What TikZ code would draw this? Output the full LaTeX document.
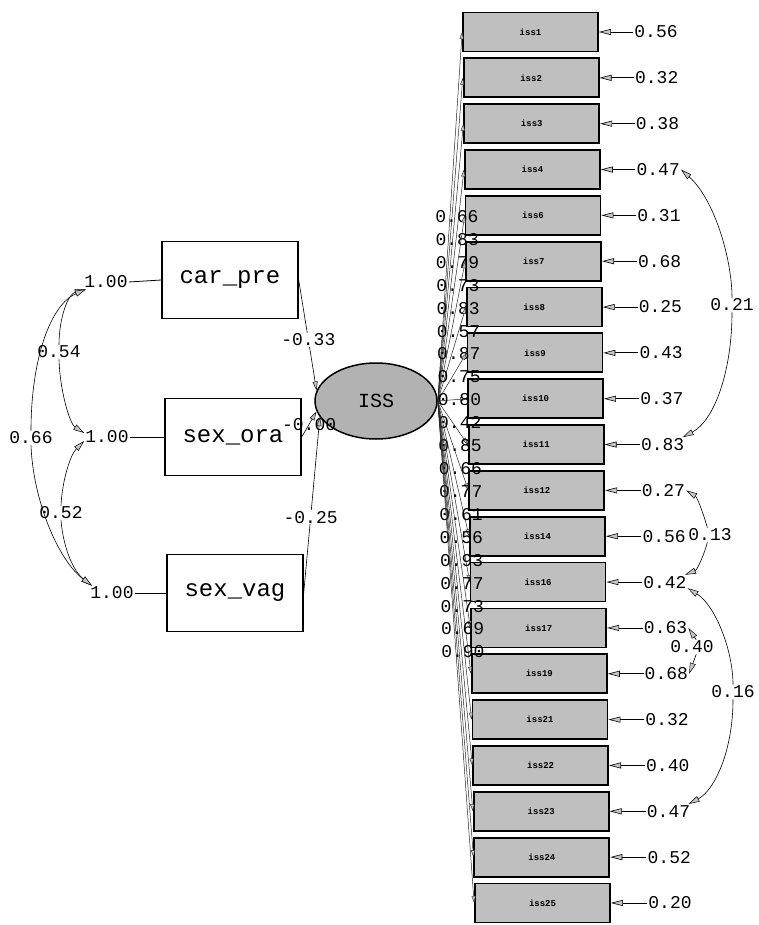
\documentclass[tikz,border=0pt]{standalone}
\usepackage{fontspec}
\newfontfamily\monof{Liberation Mono}
\usetikzlibrary{arrows.meta,shapes.geometric}
\begin{document}
\begin{tikzpicture}[x=1pt,y=-1pt,
  itembox/.style={draw=black,line width=1.8pt,fill=gray!50,minimum width=135pt,minimum height=39pt,inner sep=0pt,font=\monof\bfseries\fontsize{9}{9}\selectfont},
  xbox/.style={draw=black,line width=1.4pt,fill=white,minimum width=136pt,minimum height=77pt,inner sep=0pt,font=\monof\fontsize{24}{24}\selectfont},
  lab/.style={inner sep=1pt,font=\monof\fontsize{18}{18}\selectfont},
  wlab/.style={lab,fill=white},
  errarrow/.style={line width=0.8pt,-{Triangle[length=12pt,width=6pt,fill=gray!45,line width=0.6pt]}},
  load/.style={line width=0.5pt,draw=black!85,-{Triangle[length=7pt,width=4pt,fill=gray!45,line width=0.4pt]}},
  reg/.style={line width=0.6pt,-{Triangle[length=9pt,width=5pt,fill=gray!45,line width=0.5pt]}},
  cov/.style={line width=0.6pt,-{Triangle[length=11pt,width=6pt,fill=gray!45,line width=0.5pt]}},
  plain/.style={line width=0.8pt}
]
\useasboundingbox (0,0) rectangle (759,925);

% item boxes and error variances
\foreach \nm/\er [count=\k from 0] in {
 iss1/0.56, iss2/0.32, iss3/0.38, iss4/0.47, iss6/0.31, iss7/0.68, iss8/0.25,
 iss9/0.43, iss10/0.37, iss11/0.83, iss12/0.27, iss14/0.56, iss16/0.42,
 iss17/0.63, iss19/0.68, iss21/0.32, iss22/0.40, iss23/0.47, iss24/0.52, iss25/0.20}
{
  \pgfmathsetmacro\yy{32+45.84*\k}
  \pgfmathsetmacro\xx{530.5+12*\k/19}
  \pgfmathsetmacro\ex{656+14*\k/19}
  \node[itembox] (\nm) at (\xx,\yy) {\nm};
  \node[lab] (e\nm) at (\ex,\yy) {\er};
  \draw[errarrow] (e\nm.west) -- (\nm.east);
}

% latent variable
\node[ellipse,draw=black,line width=1.5pt,fill=gray!60,minimum width=122pt,minimum height=76pt,inner sep=0pt,font=\monof\fontsize{20}{20}\selectfont] (ISS) at (376,401) {ISS};

% loadings
\foreach \nm/\ld in {
 iss1/0.66, iss2/0.83, iss3/0.79, iss4/0.73, iss6/0.83, iss7/0.57, iss8/0.87,
 iss9/0.75, iss10/0.80, iss11/0.42, iss12/0.85, iss14/0.66, iss16/0.77,
 iss17/0.61, iss19/0.56, iss21/0.93, iss22/0.77, iss23/0.73, iss24/0.69, iss25/0.90}
{
  \draw[load] (ISS.east) -- (\nm.west) node[lab,midway,xshift=7pt] {\ld};
}

% exogenous observed variables
\node[xbox] (car) at (230,280) {car\_pre};
\node[xbox] (ora) at (233,437) {sex\_ora};
\node[xbox] (vag) at (235,593) {sex\_vag};

\node[lab] (v1) at (106,282) {1.00};
\node[lab] (v2) at (107,437) {1.00};
\node[lab] (v3) at (112,593) {1.00};
\draw[plain] (v1.east) -- (car.west);
\draw[plain] (v2.east) -- (ora.west);
\draw[plain] (v3.east) -- (vag.west);

% regressions
\draw[reg] (car.east) -- (ISS.170) node[wlab,pos=0.54] {-0.33};
\draw[reg] (ora.east) -- (ISS.190) node[lab,midway] {-0.00};
\draw[reg] (vag.east) -- (ISS.196) node[wlab,pos=0.43] {-0.25};

% covariances among exogenous variables
\node[lab] (c54) at (59,352) {0.54};
\node[lab] (c66) at (31,438) {0.66};
\node[lab] (c52) at (61,513) {0.52};
\draw[cov] (c54.north) .. controls (59,318) and (68,294) .. (v1.200);
\draw[cov] (c54.south) .. controls (60,392) and (70,424) .. (v2.170);
\draw[cov] (c66.north) .. controls (31,360) and (50,305) .. (v1.200);
\draw[cov] (c66.south) .. controls (33,500) and (58,560) .. (v3.160);
\draw[cov] (c52.north) .. controls (62,482) and (70,455) .. (v2.190);
\draw[cov] (c52.south) .. controls (63,545) and (72,570) .. (v3.160);

% error covariances
\node[lab] (c21) at (732,305) {0.21};
\node[lab] (c13) at (710,535) {0.13};
\node[lab] (c40) at (692,647) {0.40};
\node[lab] (c16) at (733,692) {0.16};
\draw[cov] (c21.north) .. controls (732,260) and (715,200) .. (eiss4.east);
\draw[cov] (c21.south) .. controls (732,370) and (715,420) .. (eiss11.20);
\draw[cov] (c13.110) .. controls (703,512) and (697,497) .. (eiss12.east);
\draw[cov] (c13.-110) .. controls (703,558) and (697,570) .. (eiss16.20);
\draw[cov] (c40.60) -- (eiss17.east);
\draw[cov] (c40.-60) -- (eiss19.east);
\draw[cov] (c16.north) .. controls (733,650) and (715,605) .. (eiss16.-15);
\draw[cov] (c16.south) .. controls (733,750) and (715,790) .. (eiss23.20);
\end{tikzpicture}
\end{document}
